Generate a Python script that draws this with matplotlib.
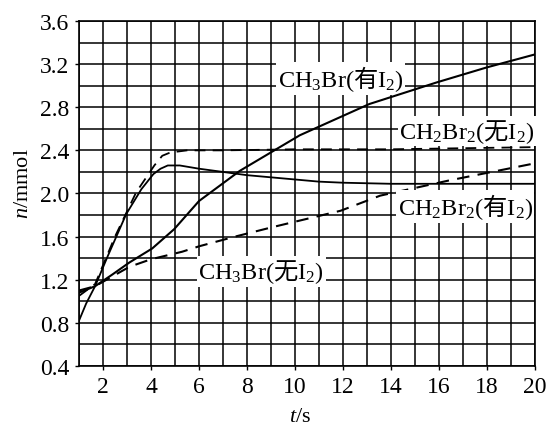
import matplotlib
matplotlib.use("Agg")
import matplotlib.pyplot as plt

plt.rcParams['font.family'] = ['Liberation Serif', 'Noto Sans CJK SC']
plt.rcParams['mathtext.fontset'] = 'custom'
plt.rcParams['mathtext.rm'] = 'Noto Sans CJK SC'
plt.rcParams['mathtext.it'] = 'Liberation Serif:italic'
plt.rcParams['mathtext.default'] = 'regular'

# CH3Br (无I2) - solid
t_ch3br_no = [1, 1.3, 1.67, 2.2, 2.97, 3.6, 4.1, 4.4, 4.7, 5.2, 6, 7, 8, 9, 10, 11, 12, 14, 16, 18, 20]
n_ch3br_no = [0.82, 0.98, 1.14, 1.42, 1.81, 2.04, 2.18, 2.23, 2.26, 2.26, 2.23, 2.20, 2.17, 2.15, 2.13, 2.11, 2.10, 2.09, 2.09, 2.09, 2.09]

# CH2Br2 (无I2) - dashed
t_ch2br2_no = [1, 1.67, 2.5, 3.38, 4.14, 4.47, 4.8, 5.5, 7, 10, 14, 17, 20]
n_ch2br2_no = [1.05, 1.16, 1.60, 2.01, 2.26, 2.35, 2.38, 2.40, 2.40, 2.41, 2.41, 2.42, 2.43]

# CH3Br (有I2) - solid
t_ch3br_i2 = [1, 1.67, 2.4, 3.1, 4.05, 4.97, 6.0, 7.7, 10.2, 13.1, 15.9, 18, 20]
n_ch3br_i2 = [1.08, 1.14, 1.25, 1.36, 1.49, 1.67, 1.93, 2.21, 2.54, 2.83, 3.03, 3.17, 3.29]

# CH2Br2 (有I2) - dashed
t_ch2br2_i2 = [1, 1.67, 3.1, 4, 5.3, 6, 7.5, 9.1, 11.9, 13.55, 16.4, 20]
n_ch2br2_i2 = [1.10, 1.14, 1.32, 1.39, 1.46, 1.51, 1.60, 1.69, 1.84, 1.98, 2.12, 2.28]

x_ticks = [2, 4, 6, 8, 10, 12, 14, 16, 18, 20]
y_ticks = [0.4, 0.8, 1.2, 1.6, 2.0, 2.4, 2.8, 3.2, 3.6]

fig = plt.figure(figsize=(5.47, 4.27), dpi=100)
ax = fig.add_axes([0.1444, 0.1405, 0.8336, 0.808])

ax.plot(t_ch3br_no, n_ch3br_no, color='black', lw=1.3, zorder=3)
ax.plot(t_ch2br2_no, n_ch2br2_no, color='black', lw=1.3, dashes=(6, 4), zorder=3)
ax.plot(t_ch3br_i2, n_ch3br_i2, color='black', lw=1.5, zorder=5)
ax.plot(t_ch2br2_i2, n_ch2br2_i2, color='black', lw=1.5, dashes=(6, 4), zorder=3)

ax.set_xlim(1, 20)
ax.set_ylim(0.4, 3.6)
ax.set_xticks(x_ticks)
ax.set_xticklabels([str(v) for v in x_ticks])
ax.set_yticks(y_ticks)
ax.set_yticklabels(['%.1f' % v for v in y_ticks])
ax.set_xticks(range(1, 21), minor=True)
ax.set_yticks([0.4 + 0.2 * i for i in range(17)], minor=True)
ax.grid(which='both', color='black', lw=1.1)
ax.set_axisbelow(True)
ax.tick_params(which='major', direction='out', length=3, width=1, labelsize=17, pad=4)
ax.tick_params(which='minor', length=0)
for s in ax.spines.values():
    s.set_linewidth(1.2)

ax.set_xlabel(r'$\mathit{t}$/s', fontsize=16)
ax.set_ylabel(r'$\mathit{n}$/mmol', fontsize=16)
ax.xaxis.set_label_coords(0.485, -0.12)
ax.yaxis.set_label_coords(-0.1, 0.53)

box = dict(facecolor='white', edgecolor='none', pad=1)
ax.text(11.9, 3.07, r'CH$_3$Br($\mathrm{有}$I$_2$)', fontsize=17.5, ha='center', va='center', bbox=box, zorder=4)
ax.text(17.15, 2.58, r'CH$_2$Br$_2$($\mathrm{无}$I$_2$)', fontsize=17.5, ha='center', va='center', bbox=box, zorder=4)
ax.text(17.1, 1.88, r'CH$_2$Br$_2$($\mathrm{有}$I$_2$)', fontsize=17.5, ha='center', va='center', bbox=box, zorder=4)
ax.text(8.6, 1.28, r'CH$_3$Br($\mathrm{无}$I$_2$)', fontsize=17.5, ha='center', va='center', bbox=box, zorder=4)

fig.savefig('out.png', dpi=100)
